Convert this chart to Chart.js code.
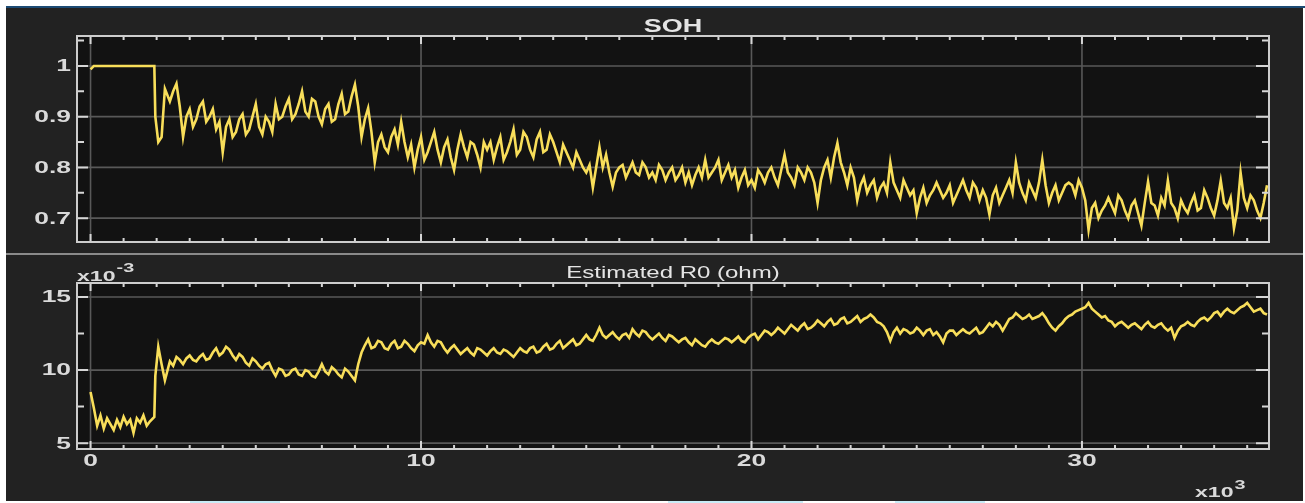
<!DOCTYPE html>
<html><head><meta charset="utf-8">
<script src="https://cdn.jsdelivr.net/npm/chart.js@4/dist/chart.umd.min.js"></script>
<style>
html,body{margin:0;padding:0;background:#fff;width:1305px;height:503px;overflow:hidden;}
#topline{position:absolute;left:6px;top:6px;width:1299px;height:2px;background:#1c4b74;}
#panel{position:absolute;left:6px;top:8px;width:1297px;height:493px;background:#222222;}
#sep{position:absolute;left:6px;top:253px;width:1297px;height:2px;background:#8a8a8a;}
canvas{position:absolute;left:6px;}
.hl{position:absolute;top:501px;height:2px;background:#c9ecf7;}
</style></head><body>
<div id="topline"></div><div id="panel"></div>
<canvas id="c1" width="1297" height="246" style="top:8px"></canvas>
<div id="sep"></div>
<canvas id="c2" width="1297" height="246" style="top:255px"></canvas>
<div class="hl" style="left:190px;width:90px"></div>
<div class="hl" style="left:668px;width:135px"></div>
<div class="hl" style="left:895px;width:90px"></div>
<script>
// ---- data: time samples ----
const t = [
0,100,200,300,400,500,600,700,800,900,1000,1100,1200,1300,1400,1500,1600,1700,1800,1930,1960,2050,2150,2250,
2400,2500,2600,2700,2800,2900,3000,3100,3200,3300,
3400,3500,3600,3700,3800,3900,4000,4100,4200,4300,
4400,4500,4600,4700,4800,4900,5000,5100,5200,5300,
5400,5500,5600,5700,5800,5900,6000,6100,6200,6300,
6400,6500,6600,6700,6800,6900,7000,7100,7200,7300,
7400,7500,7600,7700,7800,7900,8000,8100,8200,8300,
8400,8500,8600,8700,8800,8900,9000,9100,9200,9300,
9400,9500,9600,9700,9800,9900,10000,
10100,10200,10300,10400,10500,10600,10700,10800,10900,11000,
11100,11200,11300,11400,11500,11600,11700,11800,11900,12000,
12100,12200,12300,12400,12500,12600,12700,12800,12900,13000,
13100,13200,13300,13400,13500,13600,13700,13800,13900,14000,
14100,14200,14300,14400,14500,14600,14700,14800,14900,15000,
15100,15200,15300,15400,15500,15600,15700,15800,15900,16000,
16100,16200,16300,16400,16500,16600,16700,16800,16900,17000,
17100,17200,17300,17400,17500,17600,17700,17800,17900,18000,
18100,18200,18300,18400,18500,18600,18700,18800,18900,19000,
19100,19200,19300,19400,19500,19600,19700,19800,19900,20000,
20100,20200,20300,20400,20500,20600,20700,20800,20900,21000,
21100,21200,21300,21400,21500,21600,21700,21800,21900,22000,
22100,22200,22300,22400,22500,22600,22700,22800,22900,23000,
23100,23200,23300,23400,23500,23600,23700,23800,23900,24000,
24100,24200,24300,24400,24500,24600,24700,24800,24900,25000,
25100,25200,25300,25400,25500,25600,25700,25800,25900,26000,
26100,26200,26300,26400,26500,26600,26700,26800,26900,27000,
27100,27200,27300,27400,27500,27600,27700,27800,27900,28000,
28100,28200,28300,28400,28500,28600,28700,28800,28900,29000,
29100,29200,29300,29400,29500,29600,29700,29800,29900,30000,
30100,30200,30300,30400,30500,30600,30700,30800,30900,31000,
31100,31200,31300,31400,31500,31600,31700,31800,31900,32000,
32100,32200,32300,32400,32500,32600,32700,32800,32900,33000,
33100,33200,33300,33400,33500,33600,33700,33800,33900,34000,
34100,34200,34300,34400,34500,34600,34700,34800,34900,35000,
35100,35200,35300,35400,35500,35600];

// ---- data: SOH ----
const soh = [
0.993,1,1,1,1,1,1,1,1,1,1,1,1,1,1,1,1,1,1,1,0.90,0.85,0.86,0.955,
0.93,0.95,0.965,0.92,0.86,0.90,0.915,0.88,0.895,0.92,
0.93,0.89,0.90,0.915,0.875,0.89,0.83,0.88,0.895,0.86,
0.87,0.895,0.905,0.865,0.875,0.90,0.925,0.88,0.865,0.90,
0.89,0.87,0.925,0.895,0.90,0.92,0.935,0.895,0.905,0.925,
0.95,0.91,0.90,0.935,0.93,0.90,0.885,0.915,0.925,0.89,
0.895,0.925,0.945,0.905,0.91,0.94,0.963,0.92,0.86,0.895,
0.917,0.87,0.81,0.85,0.865,0.84,0.83,0.86,0.875,0.845,
0.89,0.85,0.82,0.845,0.80,0.835,0.86,
0.815,0.83,0.85,0.87,0.835,0.81,0.84,0.855,0.82,0.795,
0.835,0.865,0.84,0.82,0.85,0.845,0.825,0.80,0.85,0.835,
0.85,0.815,0.84,0.86,0.815,0.83,0.85,0.875,0.825,0.835,
0.87,0.86,0.835,0.82,0.855,0.87,0.83,0.835,0.865,0.85,
0.83,0.81,0.845,0.83,0.815,0.80,0.83,0.815,0.80,0.79,
0.805,0.76,0.80,0.84,0.80,0.825,0.79,0.762,0.79,0.80,
0.805,0.78,0.795,0.81,0.79,0.785,0.81,0.80,0.78,0.79,
0.775,0.805,0.795,0.775,0.79,0.80,0.775,0.785,0.80,0.77,
0.79,0.765,0.785,0.80,0.78,0.815,0.78,0.79,0.80,0.815,
0.775,0.79,0.805,0.78,0.795,0.76,0.78,0.795,0.765,0.775,
0.76,0.795,0.785,0.77,0.79,0.80,0.78,0.765,0.795,0.825,
0.79,0.78,0.765,0.80,0.79,0.775,0.80,0.79,0.77,0.73,
0.775,0.80,0.815,0.78,0.82,0.848,0.81,0.79,0.765,0.80,
0.78,0.735,0.765,0.78,0.75,0.765,0.775,0.74,0.76,0.77,
0.75,0.81,0.77,0.755,0.74,0.775,0.76,0.745,0.755,0.71,
0.74,0.76,0.73,0.745,0.755,0.77,0.755,0.74,0.75,0.765,
0.73,0.745,0.76,0.775,0.755,0.74,0.77,0.76,0.735,0.755,
0.74,0.707,0.745,0.76,0.73,0.745,0.76,0.775,0.75,0.81,
0.77,0.75,0.735,0.77,0.755,0.74,0.77,0.815,0.765,0.73,
0.75,0.765,0.735,0.75,0.765,0.77,0.765,0.745,0.775,0.76,
0.735,0.677,0.72,0.73,0.70,0.715,0.725,0.74,0.725,0.71,
0.745,0.735,0.715,0.70,0.725,0.735,0.71,0.685,0.73,0.772,
0.73,0.725,0.705,0.74,0.725,0.774,0.73,0.72,0.70,0.735,
0.72,0.71,0.73,0.745,0.715,0.72,0.755,0.74,0.72,0.705,
0.735,0.774,0.73,0.72,0.74,0.68,0.715,0.79,0.74,0.72,
0.745,0.735,0.715,0.70,0.73,0.765];

// ---- data: estimated R0 (x1e-3 ohm) ----
const r0 = [
8.5,7.4,6.2,6.9,6.0,6.7,6.3,5.9,6.6,6.1,6.8,6.3,6.6,5.7,6.7,6.4,6.9,6.2,6.5,6.8,9.6,11.6,10.4,9.3,
10.6,10.3,10.9,10.7,10.4,10.8,11.0,10.7,10.6,10.9,
11.1,10.7,10.8,11.2,11.5,11.0,11.2,11.6,11.4,11.0,
10.7,11.1,10.9,10.5,10.3,10.8,10.6,10.3,10.1,10.4,
10.5,10.0,9.6,10.1,10.0,9.6,9.7,10.0,10.1,9.7,
9.6,10.0,9.9,9.6,9.5,9.9,10.4,9.9,9.7,10.2,
10.0,9.7,9.5,10.1,9.9,9.6,9.3,10.4,11.2,11.7,
12.1,11.5,11.6,12.0,11.9,11.5,11.4,11.8,12.0,11.5,
11.6,12.0,11.8,11.5,11.3,11.7,11.9,
11.8,12.4,11.9,11.6,12.0,11.9,11.5,11.2,11.5,11.7,
11.4,11.1,11.3,11.5,11.2,11.0,11.5,11.4,11.2,11.0,
11.3,11.5,11.2,11.1,11.4,11.3,11.1,10.9,11.2,11.5,
11.3,11.2,11.5,11.6,11.2,11.3,11.6,11.8,11.4,11.5,
11.8,12.0,11.5,11.7,11.9,12.1,11.7,11.8,12.1,12.4,
12.1,12.0,12.4,12.9,12.4,12.2,12.4,12.6,12.3,12.1,
12.4,12.5,12.2,12.8,12.5,12.3,12.7,12.6,12.3,12.1,
12.3,12.5,12.2,12.0,12.4,12.3,12.1,11.9,12.1,12.2,
11.9,11.7,12.1,11.9,11.7,11.6,11.9,12.1,11.9,11.8,
12.0,12.2,12.1,11.9,12.1,12.3,12.0,11.9,12.2,12.4,
12.5,12.1,12.4,12.7,12.6,12.4,12.6,12.9,12.7,12.5,
12.8,13.1,12.9,12.7,13.0,13.2,12.8,12.9,13.1,13.4,
13.2,13.0,13.3,13.5,13.1,13.2,13.5,13.6,13.2,13.3,
13.5,13.7,13.3,13.5,13.6,13.8,13.6,13.3,13.2,13.0,
12.6,12.0,12.6,12.9,12.5,12.8,12.7,12.5,12.6,12.9,
12.7,12.4,12.7,12.8,12.4,12.6,12.3,11.9,12.5,12.7,
12.7,12.4,12.6,12.8,12.6,12.5,12.7,12.9,12.5,12.6,
12.9,13.2,13.0,13.3,13.1,12.7,13.1,13.5,13.6,13.9,
13.7,13.5,13.6,13.8,13.5,13.6,13.7,13.9,13.6,13.2,
12.9,12.7,13.0,13.2,13.5,13.7,13.8,14.0,14.1,14.2,
14.3,14.6,14.2,14.0,13.8,13.6,13.7,13.4,13.3,13.0,
13.2,13.3,13.1,12.9,13.1,13.2,13.0,12.8,13.1,13.3,
13.0,12.9,13.1,13.2,12.9,12.7,12.9,12.2,12.7,13.0,
13.1,13.3,13.1,13.0,13.3,13.5,13.6,13.4,13.6,13.9,
14.0,13.7,14.0,14.2,14.0,13.9,14.1,14.3,14.4,14.6,
14.3,14.0,14.1,14.2,13.9,13.8];

// ---- axis tick values and labels ----
const xTickVals = [0, 10000, 20000, 30000];
const xTickLabels = ['0', '10', '20', '30'];
const sohTicks = [0.7, 0.8, 0.9, 1];
const sohTickLabels = ['0.7', '0.8', '0.9', '1'];
const sohMinor = [0.75, 0.85, 0.95, 1.05];
const r0Ticks = [5, 10, 15];
const r0TickLabels = ['5', '10', '15'];
const r0Minor = [7.5, 12.5];

// ---- drawing helpers ----
const FONT = '"Liberation Sans", Arial, sans-serif';
const SX = 1.65;
function stext(ctx, str, x, y, font, sx, align, base, color) {
  ctx.save();
  ctx.font = font + ' ' + FONT;
  ctx.fillStyle = color;
  ctx.textBaseline = base;
  ctx.textAlign = 'left';
  const w = ctx.measureText(str).width * sx;
  const left = align === 'center' ? x - w / 2 : (align === 'right' ? x - w : x);
  ctx.translate(left, y);
  ctx.scale(sx, 1);
  ctx.fillText(str, 0, 0);
  ctx.restore();
  return w;
}

function makeScope(cfg) {
  return {
    id: 'scope',
    beforeDatasetsDraw(chart) {
      const {ctx, chartArea: a, scales: {x, y}} = chart;
      ctx.save();
      ctx.fillStyle = '#121212';
      ctx.fillRect(a.left, a.top, a.right - a.left, a.bottom - a.top);
      ctx.strokeStyle = '#585858';
      ctx.lineWidth = 1.6;
      ctx.beginPath();
      xTickVals.forEach(v => { const p = x.getPixelForValue(v); ctx.moveTo(p, a.top); ctx.lineTo(p, a.bottom); });
      cfg.yTicks.forEach(v => { const p = y.getPixelForValue(v); ctx.moveTo(a.left, p); ctx.lineTo(a.right, p); });
      ctx.stroke();
      ctx.restore();
    },
    afterDatasetsDraw(chart) {
      const {ctx, chartArea: a, scales: {x, y}} = chart;
      ctx.save();
      ctx.strokeStyle = '#d6d6d6';
      ctx.lineWidth = 2;
      ctx.beginPath();
      for (let k = 0; k <= 35; k++) {
        const p = x.getPixelForValue(k * 1000);
        const len = (k % 10 === 0) ? 8 : 4;
        ctx.moveTo(p, a.top); ctx.lineTo(p, a.top + len);
        ctx.moveTo(p, a.bottom); ctx.lineTo(p, a.bottom - len);
      }
      cfg.yTicks.forEach(v => {
        const p = y.getPixelForValue(v);
        ctx.moveTo(a.left, p); ctx.lineTo(a.left + 11, p);
        ctx.moveTo(a.right, p); ctx.lineTo(a.right - 13, p);
      });
      cfg.yMinor.forEach(v => {
        const p = y.getPixelForValue(v);
        if (p < a.top || p > a.bottom) return;
        ctx.moveTo(a.left, p); ctx.lineTo(a.left + 7, p);
        ctx.moveTo(a.right, p); ctx.lineTo(a.right - 7, p);
      });
      ctx.stroke();
      ctx.strokeStyle = '#cdcdcd';
      ctx.lineWidth = 2;
      ctx.strokeRect(a.left, a.top, a.right - a.left, a.bottom - a.top);
      ctx.restore();
    },
    afterDraw(chart) {
      const {ctx, chartArea: a, scales: {x, y}} = chart;
      const col = '#dadada';
      cfg.yTicks.forEach((v, i) => {
        stext(ctx, cfg.yLabels[i], a.left - 6, y.getPixelForValue(v) + 1, 'bold 16px', SX, 'right', 'middle', col);
      });
      stext(ctx, cfg.title, (a.left + a.right) / 2, cfg.titleY, cfg.titleFont, cfg.titleSX, 'center', 'alphabetic', '#e4e4e4');
      if (cfg.xLabels) {
        xTickVals.forEach((v, i) => {
          stext(ctx, xTickLabels[i], x.getPixelForValue(v), cfg.xLabelY, 'bold 16px', SX, 'center', 'alphabetic', col);
        });
        const w = stext(ctx, 'x10', 1189, 242, 'bold 14px', SX, 'left', 'alphabetic', col);
        stext(ctx, '3', 1189 + w + 1, 234, 'bold 12px', SX, 'left', 'alphabetic', col);
      }
      if (cfg.yExp) {
        const w = stext(ctx, 'x10', a.left, 26, 'bold 14px', SX, 'left', 'alphabetic', col);
        stext(ctx, cfg.yExp, a.left + w + 1, 17, 'bold 12px', SX, 'left', 'alphabetic', col);
      }
    }
  };
}

function build(id, values, ymin, ymax, pad, cfg) {
  return new Chart(document.getElementById(id), {
    type: 'line',
    data: {
      datasets: [{
        data: t.map((tx, i) => ({x: tx, y: values[i]})),
        borderColor: '#f8de5a',
        borderWidth: 2.6,
        pointRadius: 0,
        tension: 0,
        fill: false
      }]
    },
    options: {
      responsive: false,
      animation: false,
      devicePixelRatio: 1,
      events: [],
      layout: {padding: pad},
      plugins: {legend: {display: false}, tooltip: {enabled: false}, title: {display: false}},
      scales: {
        x: {type: 'linear', display: false, min: -410, max: 35660},
        y: {type: 'linear', display: false, min: ymin, max: ymax}
      }
    },
    plugins: [makeScope(cfg)]
  });
}

build('c1', soh, 0.653, 1.059, {left: 71, right: 34, top: 28, bottom: 12}, {
  yTicks: sohTicks, yLabels: sohTickLabels, yMinor: sohMinor,
  title: 'SOH', titleY: 24, titleFont: 'bold 18px', titleSX: 1.5, xLabels: false, yExp: null
});
build('c2', r0, 4.6, 15.96, {left: 71, right: 34, top: 28, bottom: 52}, {
  yTicks: r0Ticks, yLabels: r0TickLabels, yMinor: r0Minor,
  title: 'Estimated R0 (ohm)', titleY: 23, titleFont: '16px', titleSX: 1.5, xLabels: true, xLabelY: 211, yExp: '-3'
});
</script>
</body></html>
